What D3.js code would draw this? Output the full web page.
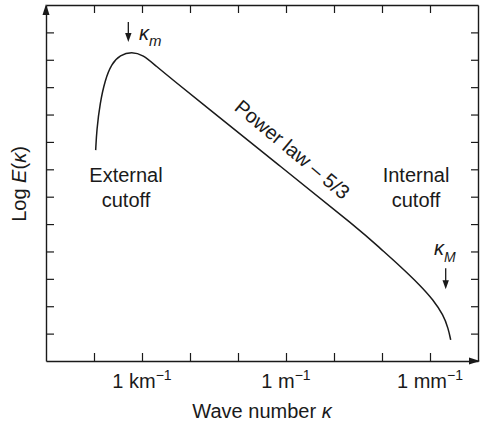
<!DOCTYPE html>
<html>
<head>
<meta charset="utf-8">
<script src="https://cdn.jsdelivr.net/npm/d3@7"></script>
<style>
  body { margin: 0; background: #fff; }
  svg { display: block; font-family: "Liberation Sans", Arial, Helvetica, sans-serif; }
  text { fill: #1a1a1a; }
</style>
</head>
<body>
<svg id="chart" width="480" height="427"></svg>
<script>
// spectrum: log10 of wave number (1/m) vs log E (arbitrary units)
var logK = [-3.965, -3.944, -3.875, -3.771, -3.631, -3.458, -3.215, -2.973, -2.729, -2.3125, -1.792, -0.125, 1.542, 1.958, 2.375, 2.792, 3.069, 3.277, 3.381, 3.431]
var logE = [7.70, 8.43, 9.41, 10.26, 10.86, 11.17, 11.30, 11.17, 10.80, 10.20, 9.47, 7.12, 4.78, 4.12, 3.47, 2.77, 2.23, 1.68, 1.19, 0.77]

// axis ticks (one per decade) and the labelled ones
var xTickVals = [-4, -3, -2, -1, 0, 1, 2, 3]
var xLabelVals = [-3, 0, 3]
var xLabelUnits = ['1 km', '1 m', '1 mm']
var yTickVals = [1, 2, 3, 4, 5, 6, 7, 8, 9, 10, 11, 12]

// markers: kappa_m (peak) and kappa_M (dissipation)
var markerK = [-3.285, 3.327]
var markerTop = [12.38, 3.39]
var markerBottom = [11.65, 2.62]

var svg = d3.select('#chart')
var ink = '#1a1a1a'

var x = d3.scaleLinear().domain([-5, 4]).range([46, 478])
var y = d3.scaleLinear().domain([0, 13]).range([361, 5])

// frame with inward ticks on all four sides
function styleAxis(g){
  g.selectAll('path').attr('stroke', ink).attr('stroke-width', 1.4)
  g.selectAll('line').attr('stroke', ink).attr('stroke-width', 1.2)
  g.selectAll('text').remove()
}
svg.append('g').attr('transform', 'translate(0,' + y(0) + ')')
  .call(d3.axisBottom(x).tickValues(xTickVals).tickSize(-8).tickSizeOuter(0)).call(styleAxis)
svg.append('g').attr('transform', 'translate(0,' + y(13) + ')')
  .call(d3.axisTop(x).tickValues(xTickVals).tickSize(-8).tickSizeOuter(0)).call(styleAxis)
svg.append('g').attr('transform', 'translate(' + x(-5) + ',0)')
  .call(d3.axisLeft(y).tickValues(yTickVals).tickSize(-8).tickSizeOuter(0)).call(styleAxis)
svg.append('g').attr('transform', 'translate(' + x(4) + ',0)')
  .call(d3.axisRight(y).tickValues(yTickVals).tickSize(-7).tickSizeOuter(0)).call(styleAxis)

// axis arrowheads
svg.append('path')
  .attr('d', 'M' + (x(4) + 2) + ',' + y(0) + 'l-11,-3.5v7z')
  .attr('fill', ink)
svg.append('path')
  .attr('d', 'M' + x(-5) + ',' + (y(13) - 1) + 'l-3.5,11h7z')
  .attr('fill', ink)

// tick labels with superscript -1
var xl = svg.append('g').selectAll('text')
  .data(xLabelVals)
  .enter().append('text')
  .attr('x', function(d){return x(d)})
  .attr('y', 388)
  .attr('text-anchor', 'middle')
  .style('font-size', '20px')
xl.append('tspan').text(function(d,i){return xLabelUnits[i]})
xl.append('tspan').attr('dy', -8).style('font-size', '14px').text('\u22121')

// axis titles
var xt = svg.append('text')
  .attr('x', 262).attr('y', 418)
  .attr('text-anchor', 'middle')
  .style('font-size', '20px')
xt.append('tspan').text('Wave number ')
xt.append('tspan').style('font-style', 'italic').text('\u03ba')

var yt = svg.append('text')
  .attr('transform', 'translate(26,184) rotate(-90)')
  .attr('text-anchor', 'middle')
  .style('font-size', '20px')
yt.append('tspan').text('Log ')
yt.append('tspan').style('font-style', 'italic').text('E')
yt.append('tspan').text('(')
yt.append('tspan').style('font-style', 'italic').text('\u03ba')
yt.append('tspan').text(')')

// the spectrum
var line = d3.line()
  .x(function(d){return x(d[0])})
  .y(function(d){return y(d[1])})
  .curve(d3.curveBasis)
svg.append('path')
  .datum(d3.zip(logK, logE))
  .attr('d', line)
  .attr('fill', 'none')
  .attr('stroke', ink)
  .attr('stroke-width', 1.5)

// power-law label along the straight part
var angle = Math.atan2(y(logE[12]) - y(logE[10]), x(logK[12]) - x(logK[10])) * 180 / Math.PI + 1
svg.append('text')
  .attr('transform', 'translate(' + x(0.04) + ',' + y(7.53) + ') rotate(' + angle + ')')
  .attr('text-anchor', 'middle')
  .style('font-size', '20px')
  .text('Power law \u2013 5/3')

// cutoff labels
function twoLines(cx, lines){
  var t = svg.append('text').attr('text-anchor', 'middle').style('font-size', '20px')
  lines.forEach(function(s, i){
    t.append('tspan').attr('x', cx).attr('y', 181.5 + i * 25.5).text(s)
  })
}
twoLines(126, ['External', 'cutoff'])
twoLines(416, ['Internal', 'cutoff'])

// marker arrows
markerK.forEach(function(k, i){
  var xx = x(k)
  svg.append('line')
    .attr('x1', xx).attr('x2', xx)
    .attr('y1', y(markerTop[i])).attr('y2', y(markerBottom[i]) - 6)
    .attr('stroke', ink).attr('stroke-width', 1.3)
  svg.append('path')
    .attr('d', 'M' + xx + ',' + y(markerBottom[i]) + 'l-3.2,-9h6.4z')
    .attr('fill', ink)
})

var km = svg.append('text').attr('x', 139).attr('y', 40).style('font-style', 'italic')
km.append('tspan').style('font-size', '20px').text('\u03ba')
km.append('tspan').attr('dy', 6).style('font-size', '15px').text('m')
var kM = svg.append('text').attr('x', 434).attr('y', 255).style('font-style', 'italic')
kM.append('tspan').style('font-size', '20px').text('\u03ba')
kM.append('tspan').attr('dy', 7).style('font-size', '14px').text('M')
</script>
</body>
</html>
